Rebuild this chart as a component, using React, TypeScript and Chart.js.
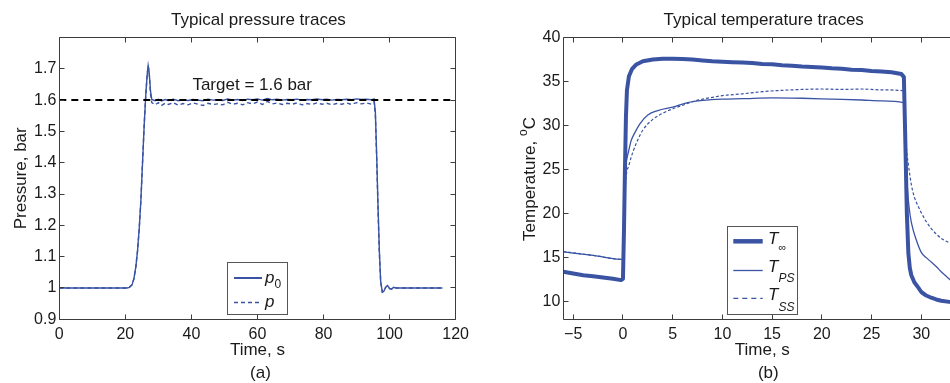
import React, { useEffect, useRef } from "react";
import { Chart, registerables } from "chart.js";

Chart.register(...registerables);

const FONT = '"Liberation Sans", Arial, Helvetica, sans-serif';
const BLUE = "#3a54a3";
const AXIS = "#3c3c3c";
const TEXT = "#1a1a1a";

// ---------------- Pressure data (panel a) ----------------
const pressureTitle = "Typical pressure traces";
const pressureXLabel = "Time, s";
const pressureYLabel = "Pressure, bar";
const pressureXTicks = [0, 20, 40, 60, 80, 100, 120];
const pressureYTicks = [0.9, 1, 1.1, 1.2, 1.3, 1.4, 1.5, 1.6, 1.7, 1.8];
const TARGET = 1.6;

const pressureTime = [
  0, 20.5, 21.2, 22, 22.6, 23.2, 23.7, 24.2, 24.7, 25.2, 25.7, 26.2, 26.6, 26.9, 27.2, 27.6, 28.0,
  29, 30, 31, 32, 33, 34.5, 36, 37.5, 39, 40.5, 42, 43.5, 45, 46.5, 48, 49.5, 51, 52.5, 54, 55.5,
  57, 58.5, 60, 61.5, 63, 64.5, 66, 67.5, 69, 70.5, 72, 73.5, 75, 76.5, 78, 79.5, 81, 82.5, 84,
  85.5, 87, 88.5, 90, 91.5, 93, 94.5, 95.3,
  95.7, 96.1, 96.5, 96.9, 97.3, 97.8, 98.3, 98.8, 99.4, 100, 100.6, 101.2, 102, 116,
];
const pressureP0 = [
  1.0, 1.0, 1.002, 1.01, 1.03, 1.07, 1.12, 1.19, 1.28, 1.4, 1.52, 1.62, 1.68, 1.71, 1.69, 1.63, 1.602,
  1.598, 1.603, 1.597, 1.602, 1.599, 1.603, 1.598, 1.601, 1.599, 1.602, 1.6, 1.598, 1.603, 1.6,
  1.601, 1.599, 1.604, 1.6, 1.602, 1.599, 1.603, 1.601, 1.604, 1.6, 1.605, 1.601, 1.603, 1.6,
  1.602, 1.601, 1.603, 1.6, 1.602, 1.601, 1.604, 1.601, 1.603, 1.6, 1.602, 1.601, 1.603, 1.601,
  1.604, 1.602, 1.603, 1.601, 1.604,
  1.56, 1.42, 1.26, 1.12, 1.02, 0.987, 0.99, 1.002, 1.008, 0.998, 0.997, 1.002, 1.0, 1.0,
];
const pressureP = [
  1.0, 1.0, 1.002, 1.01, 1.03, 1.07, 1.12, 1.19, 1.28, 1.4, 1.52, 1.62, 1.68, 1.71, 1.69, 1.62, 1.592,
  1.585, 1.592, 1.583, 1.59, 1.586, 1.592, 1.584, 1.589, 1.585, 1.591, 1.587, 1.583, 1.59, 1.586,
  1.588, 1.585, 1.593, 1.587, 1.59, 1.585, 1.592, 1.588, 1.594, 1.586, 1.596, 1.588, 1.591, 1.586,
  1.59, 1.587, 1.591, 1.585, 1.589, 1.586, 1.591, 1.587, 1.59, 1.585, 1.589, 1.587, 1.591, 1.586,
  1.592, 1.588, 1.591, 1.587, 1.595,
  1.55, 1.41, 1.25, 1.11, 1.02, 0.987, 0.99, 1.002, 1.008, 0.998, 0.997, 1.002, 1.0, 1.0,
];

// ---------------- Temperature data (panel b) ----------------
const tempTitle = "Typical temperature traces";
const tempXLabel = "Time, s";
const tempXTicks = [-5, 0, 5, 10, 15, 20, 25, 30, 35];
const tempYTicks = [10, 15, 20, 25, 30, 35, 40];

const tInfTime = [
  -6, -5, -4, -3, -2, -1, -0.2, 0, 0.1, 0.2, 0.3, 0.4, 0.6, 0.9, 1.3, 2, 3, 4, 5, 6, 7, 8, 9, 10,
  11, 12, 13, 14, 15, 16, 17, 18, 19, 20, 21, 22, 23, 24, 25, 26, 27, 28, 28.25, 28.4, 28.55, 28.7,
  28.85, 29, 29.3, 29.7, 30, 30.5, 31, 31.5, 32, 33, 34, 35,
];
const tInf = [
  13.4, 13.2, 13.0, 12.9, 12.75, 12.6, 12.45, 12.6, 18, 25, 31, 34, 35.6, 36.4, 36.9, 37.3, 37.5,
  37.6, 37.6, 37.55, 37.5, 37.4, 37.3, 37.25, 37.2, 37.15, 37.1, 37.0, 36.95, 36.85, 36.8, 36.7,
  36.65, 36.6, 36.5, 36.45, 36.35, 36.3, 36.2, 36.15, 36.05, 35.85, 35.5, 28, 20, 15.5, 13.8, 13.0,
  12.2, 11.6, 11.1, 10.7, 10.45, 10.25, 10.1, 9.95, 9.8, 9.7,
];

const tPSTime = [
  -6, -3, 0, 0.1, 0.2, 0.35, 0.55, 0.8, 1.2, 1.7, 2.5, 3.5, 5, 6.5, 8, 10, 12, 15, 18, 21, 24, 26,
  28.2, 28.4, 28.5, 28.6, 28.8, 29, 29.5, 30, 30.5, 31, 31.5, 32, 32.5, 33, 34, 35,
];
const tPS = [
  15.65, 15.25, 14.8, 21, 24.6, 26, 27, 28.2, 29.2, 30.2, 31.2, 31.7, 32.1, 32.6, 32.85, 33.0,
  33.05, 33.15, 33.1, 33.0, 32.9, 32.8, 32.6, 30.5, 26, 23, 20.5, 19, 17, 15.6, 15, 14.5, 14,
  13.4, 12.9, 12.4, 11.8, 11.3,
];

const tSSTime = [
  -6, -3, 0, 0.15, 0.3, 0.6, 1, 1.5, 2, 3, 4, 5, 6, 7, 8, 9, 10, 12, 14, 16, 18, 20, 22, 24, 26,
  28.2, 28.35, 28.5, 28.7, 29, 29.3, 29.7, 30, 30.5, 31, 31.5, 32, 33, 34, 35,
];
const tSS = [
  15.7, 15.25, 14.8, 21, 24, 25.5, 27, 28.4, 29.5, 30.7, 31.4, 31.9, 32.3, 32.7, 33.0, 33.2, 33.4,
  33.6, 33.85, 34.0, 34.1, 34.15, 34.1, 34.15, 34.05, 33.95, 31, 27.6, 25.6, 23.3, 21.9, 20.8,
  20.1, 19.1, 18.3, 17.7, 17.2, 16.6, 16.1, 15.7,
];

type Part = { text: string; size: number; italic?: boolean; dy?: number };

function fontOf(p: Part) {
  return `${p.italic ? "italic " : ""}${p.size}px ${FONT}`;
}

function drawParts(ctx: CanvasRenderingContext2D, x: number, y: number, parts: Part[], align: "left" | "center") {
  const widths = parts.map((p) => {
    ctx.font = fontOf(p);
    return ctx.measureText(p.text).width;
  });
  const total = widths.reduce((s, w) => s + w, 0);
  let cx = align === "center" ? x - total / 2 : x;
  ctx.textAlign = "left";
  ctx.textBaseline = "alphabetic";
  parts.forEach((p, i) => {
    ctx.font = fontOf(p);
    ctx.fillText(p.text, cx, y + (p.dy || 0));
    cx += widths[i];
  });
}

const px = (v: number) => Math.floor(v) + 0.5;

function drawFrame(chart: any, right: boolean) {
  const { ctx, chartArea: a, scales } = chart;
  const xs = scales.x;
  const ys = scales.y;
  ctx.save();
  ctx.strokeStyle = AXIS;
  ctx.lineWidth = 1;
  ctx.beginPath();
  ctx.moveTo(px(a.left), px(a.top));
  ctx.lineTo(px(a.right), px(a.top));
  if (right) ctx.lineTo(px(a.right), px(a.bottom));
  ctx.moveTo(px(a.left), px(a.top));
  ctx.lineTo(px(a.left), px(a.bottom));
  ctx.lineTo(px(a.right), px(a.bottom));
  const L = 5;
  xs.ticks.forEach((t: any) => {
    const x = px(xs.getPixelForValue(t.value));
    ctx.moveTo(x, px(a.bottom));
    ctx.lineTo(x, px(a.bottom) - L);
    ctx.moveTo(x, px(a.top));
    ctx.lineTo(x, px(a.top) + L);
  });
  ys.ticks.forEach((t: any) => {
    const y = px(ys.getPixelForValue(t.value));
    ctx.moveTo(px(a.left), y);
    ctx.lineTo(px(a.left) + L, y);
    ctx.moveTo(px(a.right), y);
    ctx.lineTo(px(a.right) - L, y);
  });
  ctx.stroke();
  ctx.restore();
}

function legendBox(ctx: CanvasRenderingContext2D, x0: number, y0: number, x1: number, y1: number) {
  ctx.fillStyle = "#ffffff";
  ctx.fillRect(x0, y0, x1 - x0, y1 - y0);
  ctx.strokeStyle = "#555555";
  ctx.lineWidth = 1;
  ctx.strokeRect(px(x0), px(y0), Math.round(x1 - x0), Math.round(y1 - y0));
}

function legendLine(ctx: CanvasRenderingContext2D, x0: number, x1: number, y: number, w: number, dash: number[]) {
  ctx.save();
  ctx.strokeStyle = BLUE;
  ctx.lineWidth = w;
  ctx.setLineDash(dash);
  ctx.beginPath();
  ctx.moveTo(x0, y);
  ctx.lineTo(x1, y);
  ctx.stroke();
  ctx.restore();
}

const pressureDecor = {
  id: "pressureDecor",
  afterDraw(chart: any) {
    const { ctx, chartArea: a, scales } = chart;
    drawFrame(chart, true);
    ctx.save();
    ctx.fillStyle = TEXT;
    const cx = (a.left + a.right) / 2;
    drawParts(ctx, cx + 1, 25, [{ text: pressureTitle, size: 17 }], "center");
    drawParts(ctx, cx, 355, [{ text: pressureXLabel, size: 17 }], "center");
    drawParts(ctx, cx + 3, 378, [{ text: "(a)", size: 17 }], "center");
    ctx.save();
    ctx.translate(25.5, 178.3);
    ctx.rotate(-Math.PI / 2);
    drawParts(ctx, 0, 0, [{ text: pressureYLabel, size: 17 }], "center");
    ctx.restore();
    const ty = scales.y.getPixelForValue(TARGET) - 10.5;
    const tx = scales.x.getPixelForValue(58.4);
    drawParts(ctx, tx, ty, [{ text: `Target = ${TARGET} bar`, size: 17 }], "center");
    // legend
    legendBox(ctx, 227.7, 262.3, 287.3, 314.3);
    legendLine(ctx, 234, 262, 278, 2, []);
    legendLine(ctx, 234, 262, 302.5, 1.5, [4, 3]);
    ctx.fillStyle = TEXT;
    drawParts(ctx, 265, 282.5, [{ text: "p", size: 17, italic: true }, { text: "0", size: 12, dy: 5.5 }], "left");
    drawParts(ctx, 265, 306.8, [{ text: "p", size: 17, italic: true }], "left");
    ctx.restore();
  },
};

const tempDecor = {
  id: "tempDecor",
  afterDraw(chart: any) {
    const { ctx } = chart;
    drawFrame(chart, true);
    const off = 475;
    ctx.save();
    ctx.fillStyle = TEXT;
    drawParts(ctx, 763.7 - off, 25, [{ text: tempTitle, size: 17 }], "center");
    drawParts(ctx, 762.3 - off, 355, [{ text: tempXLabel, size: 17 }], "center");
    drawParts(ctx, 768.3 - off, 378, [{ text: "(b)", size: 17 }], "center");
    ctx.save();
    ctx.translate(534.5 - off, 179);
    ctx.rotate(-Math.PI / 2);
    drawParts(
      ctx,
      0,
      0,
      [
        { text: "Temperature, ", size: 17 },
        { text: "o", size: 12, dy: -8 },
        { text: "C", size: 17 },
      ],
      "center"
    );
    ctx.restore();
    // legend
    legendBox(ctx, 727.3 - off, 226, 797.7 - off, 314.3);
    legendLine(ctx, 733.3 - off, 762.7 - off, 241.3, 4.5, []);
    legendLine(ctx, 733.3 - off, 762.7 - off, 270.5, 1.3, []);
    legendLine(ctx, 733.3 - off, 762.7 - off, 298.3, 1.2, [5, 4]);
    ctx.fillStyle = TEXT;
    drawParts(ctx, 768 - off, 244.3, [{ text: "T", size: 17, italic: true }, { text: "\u221e", size: 11, dy: 7 }], "left");
    drawParts(ctx, 768 - off, 271.7, [{ text: "T", size: 17, italic: true }, { text: "PS", size: 12, italic: true, dy: 10 }], "left");
    drawParts(ctx, 768 - off, 300, [{ text: "T", size: 17, italic: true }, { text: "SS", size: 12, italic: true, dy: 10.5 }], "left");
    ctx.restore();
  },
};

function pts(xs: number[], ys: number[]) {
  return xs.map((x, i) => ({ x, y: ys[i] }));
}

const tickFont = { family: FONT, size: 16 };
const noGrid = { display: false, drawTicks: false, drawOnChartArea: false, tickLength: 0 };

function pressureConfig(): any {
  return {
    type: "line",
    data: {
      datasets: [
        {
          label: "Target",
          data: [
            { x: pressureXTicks[0], y: TARGET },
            { x: pressureXTicks[pressureXTicks.length - 1], y: TARGET },
          ],
          borderColor: "#000000",
          borderWidth: 2,
          borderDash: [7, 5],
          pointRadius: 0,
        },
        {
          label: "p0",
          data: pts(pressureTime, pressureP0),
          borderColor: BLUE,
          borderWidth: 1.4,
          pointRadius: 0,
          tension: 0,
        },
        {
          label: "p",
          data: pts(pressureTime, pressureP),
          borderColor: BLUE,
          borderWidth: 1.4,
          borderDash: [4, 3],
          pointRadius: 0,
          tension: 0,
        },
      ],
    },
    options: {
      responsive: false,
      animation: false,
      events: [],
      layout: { padding: { left: 0, right: 475 - 455.7, top: 37.5, bottom: 0 } },
      plugins: { legend: { display: false }, tooltip: { enabled: false }, title: { display: false } },
      scales: {
        x: {
          type: "linear",
          min: pressureXTicks[0],
          max: pressureXTicks[pressureXTicks.length - 1],
          afterBuildTicks: (s: any) => {
            s.ticks = pressureXTicks.map((v) => ({ value: v }));
          },
          afterFit: (s: any) => {
            s.height = 383 - 319.3;
          },
          grid: noGrid,
          border: { display: false },
          ticks: { font: tickFont, color: TEXT, padding: 6, maxRotation: 0, autoSkip: false },
        },
        y: {
          type: "linear",
          min: pressureYTicks[0],
          max: pressureYTicks[pressureYTicks.length - 1],
          afterBuildTicks: (s: any) => {
            s.ticks = pressureYTicks.map((v) => ({ value: v }));
          },
          afterFit: (s: any) => {
            s.width = 59.3;
          },
          grid: noGrid,
          border: { display: false },
          ticks: {
            font: tickFont,
            color: TEXT,
            padding: 3,
            autoSkip: false,
            callback: (v: number) =>
              Math.abs(v - pressureYTicks[pressureYTicks.length - 1]) < 1e-9 ? "" : String(Number(v.toFixed(1))),
          },
        },
      },
    },
    plugins: [pressureDecor],
  };
}

const TEMP_CANVAS_W = 520;

function tempConfig(): any {
  return {
    type: "line",
    data: {
      datasets: [
        {
          label: "T_inf",
          data: pts(tInfTime, tInf),
          borderColor: BLUE,
          borderWidth: 4,
          borderJoinStyle: "round",
          pointRadius: 0,
          tension: 0,
        },
        {
          label: "T_PS",
          data: pts(tPSTime, tPS),
          borderColor: BLUE,
          borderWidth: 1.3,
          pointRadius: 0,
          tension: 0.3,
          cubicInterpolationMode: "monotone",
        },
        {
          label: "T_SS",
          data: pts(tSSTime, tSS),
          borderColor: BLUE,
          borderWidth: 1.2,
          borderDash: [3, 2],
          pointRadius: 0,
          tension: 0.3,
          cubicInterpolationMode: "monotone",
        },
      ],
    },
    options: {
      responsive: false,
      animation: false,
      events: [],
      layout: { padding: { left: 0, right: TEMP_CANVAS_W - (148 + 35 * 9.943), top: 37.5, bottom: 0 } },
      plugins: { legend: { display: false }, tooltip: { enabled: false }, title: { display: false } },
      scales: {
        x: {
          type: "linear",
          min: -6,
          max: tempXTicks[tempXTicks.length - 1],
          afterBuildTicks: (s: any) => {
            s.ticks = tempXTicks.map((v) => ({ value: v }));
          },
          afterFit: (s: any) => {
            s.height = 383 - 319.3;
          },
          grid: noGrid,
          border: { display: false },
          ticks: {
            font: tickFont,
            color: TEXT,
            padding: 6,
            maxRotation: 0,
            autoSkip: false,
            callback: (v: number) => String(v).replace("-", "\u2212"),
          },
        },
        y: {
          type: "linear",
          min: 8,
          max: tempYTicks[tempYTicks.length - 1],
          afterBuildTicks: (s: any) => {
            s.ticks = tempYTicks.map((v) => ({ value: v }));
          },
          afterFit: (s: any) => {
            s.width = 563.3 - 475;
          },
          grid: noGrid,
          border: { display: false },
          ticks: { font: tickFont, color: TEXT, padding: 3, autoSkip: false },
        },
      },
    },
    plugins: [tempDecor],
  };
}

export default function App() {
  const leftRef = useRef<HTMLCanvasElement | null>(null);
  const rightRef = useRef<HTMLCanvasElement | null>(null);

  useEffect(() => {
    const c1 = new Chart(leftRef.current as HTMLCanvasElement, pressureConfig());
    const c2 = new Chart(rightRef.current as HTMLCanvasElement, tempConfig());
    return () => {
      c1.destroy();
      c2.destroy();
    };
  }, []);

  return (
    <div
      style={{
        position: "absolute",
        left: 0,
        top: 0,
        width: 950,
        height: 383,
        overflow: "hidden",
        background: "#ffffff",
      }}
    >
      <canvas
        ref={leftRef}
        width={475}
        height={383}
        style={{ position: "absolute", left: 0, top: 0, width: 475, height: 383 }}
      />
      <canvas
        ref={rightRef}
        width={TEMP_CANVAS_W}
        height={383}
        style={{ position: "absolute", left: 475, top: 0, width: TEMP_CANVAS_W, height: 383 }}
      />
    </div>
  );
}
